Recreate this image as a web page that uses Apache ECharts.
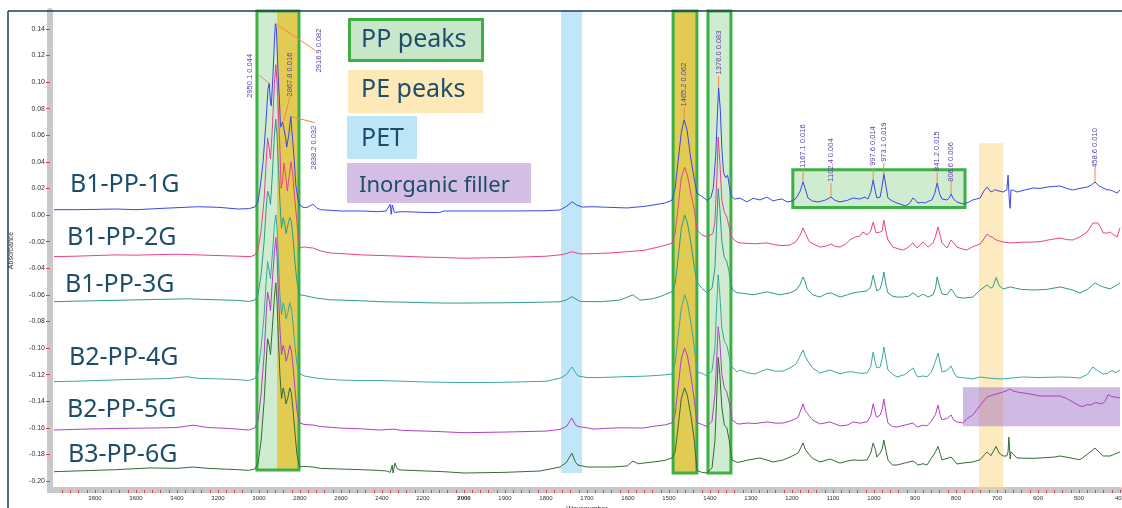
<!DOCTYPE html>
<html>
<head>
<meta charset="utf-8">
<script src="https://cdn.jsdelivr.net/npm/echarts@6/dist/echarts.min.js"></script>
<style>
html,body{margin:0;padding:0;background:#fff;overflow:hidden;}
#c{width:1122px;height:508px;}
</style>
</head>
<body>
<div id="c"></div>
<script>
// ---------- DATA (wavenumber, absorbance) ----------
const sampleNames = ['B1-PP-1G','B1-PP-2G','B1-PP-3G','B2-PP-4G','B2-PP-5G','B3-PP-6G'];
const legendNames = ['PP peaks','PE peaks','PET','Inorganic filler'];
const yTickValues = [-0.20,-0.18,-0.16,-0.14,-0.12,-0.10,-0.08,-0.06,-0.04,-0.02,0.00,0.02,0.04,0.06,0.08,0.10,0.12,0.14];

const trace1G = [[4000,.0040],[3900,.0040],[3800,.0042],[3700,.0045],[3600,.0040],[3500,.0048],[3400,.0055],[3300,.0062],[3200,.0058],[3100,.0045],[3050,.0048],[3020,.0060],[3005,.0098],[2995,.020],[2980,.040],[2966,.070],[2956,.095],[2950,.099],[2944,.085],[2940,.082],[2932,.105],[2925,.130],[2920,.144],[2915,.140],[2910,.118],[2906,.104],[2900,.085],[2895,.066],[2885,.070],[2878,.071],[2870,.058],[2865,.051],[2855,.060],[2845,.074],[2840,.073],[2830,.045],[2820,.022],[2810,.012],[2800,.007],[2780,.0055],[2760,.0060],[2737,.0082],[2720,.0055],[2700,.0040],[2600,.0030],[2500,.0030],[2420,.0025],[2380,.0030],[2360,.0080],[2355,.0005],[2350,.0075],[2340,.0020],[2300,.0025],[2200,.0020],[2120,.0018],[2100,.0030],[2000,.0030],[1900,.0030],[1800,.0032],[1766,.0038],[1750,.0065],[1736,.0100],[1725,.0075],[1712,.0060],[1685,.0062],[1650,.0058],[1602,.0053],[1560,.0065],[1539,.0075],[1510,.0090],[1493,.0110],[1485,.020],[1478,.040],[1470,.062],[1463,.0714],[1456,.064],[1448,.045],[1440,.030],[1432,.0165],[1420,.014],[1407,.011],[1398,.013],[1392,.020],[1386,.045],[1382,.075],[1379,.0955],[1375,.080],[1371,.050],[1367,.032],[1362,.028],[1357,.030],[1353,.022],[1348,.014],[1340,.012],[1327,.0128],[1310,.0098],[1295,.0125],[1278,.0113],[1261,.0135],[1246,.0105],[1235,.0115],[1224,.012],[1212,.0098],[1200,.0105],[1190,.0125],[1180,.018],[1173,.0248],[1168,.020],[1161,.0128],[1150,.0105],[1137,.0098],[1120,.011],[1105,.0135],[1095,.011],[1083,.0098],[1065,.0110],[1051,.0128],[1035,.012],[1022,.0135],[1015,.012],[1008,.017],[1002,.0263],[997,.018],[993,.0128],[985,.0135],[980,.022],[976,.0308],[971,.022],[966,.0128],[955,.0105],[944,.009],[934,.008],[924,.0068],[914,.0085],[905,.0128],[898,.011],[893,.009],[884,.0095],[876,.009],[866,.0105],[859,.0113],[852,.016],[846,.024],[840,.016],[834,.012],[822,.0113],[816,.013],[812,.0158],[806,.012],[798,.0098],[783,.0083],[770,.0095],[759,.0113],[741,.0128],[732,.018],[724,.021],[717,.018],[712,.0173],[706,.019],[702,.0203],[695,.018],[685,.0173],[676,.0188],[673,.030],[670,.0113],[668,.0050],[666,.0188],[660,.0185],[651,.0173],[630,.019],[612,.0203],[595,.020],[578,.021],[560,.0215],[546,.0218],[530,.020],[515,.0188],[498,.0200],[480,.021],[470,.0225],[461,.0248],[452,.022],[441,.0203],[432,.019],[424,.0188],[416,.0178],[407,.0165],[400,.0188]];

const trace2G = [[4000,-.0313],[3900,-.0310],[3800,-.0305],[3700,-.0300],[3600,-.0302],[3500,-.0298],[3400,-.0295],[3300,-.0300],[3200,-.0305],[3100,-.0310],[3040,-.0313],[3020,-.030],[3005,-.026],[2990,-.012],[2975,.012],[2965,.040],[2958,.058],[2950,.050],[2944,.042],[2935,.065],[2925,.098],[2918,.113],[2912,.100],[2905,.075],[2898,.050],[2892,.020],[2885,.025],[2878,.039],[2870,.030],[2862,.018],[2852,.030],[2844,.040],[2835,.030],[2826,.013],[2815,-.005],[2808,-.018],[2800,-.0248],[2780,-.0240],[2760,-.0245],[2737,-.0248],[2700,-.027],[2650,-.0286],[2600,-.0290],[2500,-.0300],[2400,-.0305],[2300,-.0310],[2200,-.0316],[2100,-.0320],[2000,-.0325],[1900,-.0320],[1800,-.0310],[1766,-.0300],[1750,-.0290],[1737,-.0276],[1717,-.0293],[1680,-.0290],[1640,-.0285],[1602,-.0276],[1560,-.0265],[1522,-.0238],[1493,-.0213],[1485,-.0135],[1478,.005],[1470,.028],[1462,.036],[1455,.030],[1446,.015],[1438,.0038],[1432,-.0113],[1420,-.015],[1407,-.0165],[1393,-.014],[1388,-.005],[1383,.030],[1380,.0586],[1376,.040],[1371,.011],[1365,.002],[1359,-.0015],[1354,-.008],[1349,-.016],[1340,-.0190],[1334,-.0203],[1327,-.0210],[1310,-.0213],[1290,-.0216],[1261,-.0210],[1240,-.0225],[1224,-.0230],[1205,-.0226],[1190,-.020],[1180,-.015],[1173,-.0098],[1167,-.014],[1158,-.020],[1151,-.0213],[1132,-.0241],[1118,-.0235],[1105,-.0218],[1095,-.0235],[1083,-.0241],[1070,-.022],[1059,-.0188],[1046,-.0165],[1035,-.016],[1027,-.0128],[1017,-.0150],[1008,-.012],[1002,-.0053],[995,-.0135],[985,-.0128],[980,-.012],[976,-.0038],[970,-.014],[966,-.0188],[954,-.0241],[940,-.0255],[929,-.0263],[920,-.025],[905,-.0210],[895,-.0248],[880,-.0203],[868,-.0241],[856,-.0210],[850,-.016],[844,-.009],[838,-.016],[834,-.0210],[822,-.0248],[812,-.0188],[805,-.021],[798,-.0241],[785,-.0255],[773,-.0263],[760,-.024],[741,-.0218],[732,-.018],[724,-.0143],[718,-.016],[712,-.0165],[702,-.0188],[685,-.0203],[668,-.0210],[640,-.0205],[612,-.0203],[595,-.0200],[570,-.0185],[546,-.0173],[530,-.0185],[515,-.0188],[498,-.0165],[480,-.0128],[466,-.0060],[454,-.0060],[446,-.010],[441,-.0135],[430,-.0135],[424,-.0128],[415,-.015],[407,-.0165],[400,-.0098]];

const trace3G = [[4000,-.0652],[3900,-.0648],[3800,-.0645],[3600,-.0638],[3400,-.0632],[3350,-.0630],[3200,-.0638],[3100,-.0642],[3050,-.0650],[3020,-.0640],[3005,-.060],[2990,-.045],[2975,-.020],[2965,.005],[2958,.018],[2950,.014],[2944,.008],[2935,.030],[2925,.060],[2918,.072],[2912,.060],[2905,.035],[2898,.010],[2890,-.010],[2882,-.002],[2875,-.006],[2868,-.014],[2860,-.008],[2850,-.002],[2842,-.005],[2835,-.015],[2825,-.035],[2815,-.050],[2805,-.058],[2800,-.0600],[2780,-.0605],[2750,-.0615],[2720,-.0625],[2650,-.0638],[2600,-.0640],[2500,-.0645],[2410,-.0652],[2300,-.0655],[2180,-.0660],[2100,-.0662],[2000,-.0662],[1900,-.0660],[1800,-.0655],[1766,-.0652],[1750,-.0638],[1737,-.0614],[1717,-.0650],[1668,-.0652],[1620,-.0640],[1588,-.0600],[1571,-.0640],[1540,-.0630],[1522,-.0614],[1493,-.0577],[1485,-.052],[1478,-.033],[1470,-.010],[1462,.000],[1455,-.006],[1446,-.022],[1438,-.040],[1432,-.0504],[1420,-.055],[1407,-.0586],[1395,-.055],[1388,-.040],[1384,-.010],[1380,.020],[1376,.005],[1371,-.020],[1365,-.032],[1359,-.035],[1354,-.042],[1349,-.052],[1344,-.0564],[1334,-.0586],[1327,-.0586],[1295,-.0600],[1261,-.0578],[1230,-.0600],[1205,-.0586],[1190,-.0564],[1180,-.052],[1173,-.0466],[1168,-.050],[1163,-.0556],[1150,-.060],[1132,-.0617],[1115,-.059],[1105,-.0586],[1095,-.0600],[1083,-.0617],[1065,-.0600],[1051,-.0586],[1035,-.0578],[1017,-.0571],[1008,-.054],[1002,-.0451],[997,-.052],[993,-.0571],[985,-.0556],[980,-.050],[976,-.0429],[971,-.052],[966,-.0586],[955,-.0610],[944,-.0617],[930,-.0617],[915,-.0610],[905,-.0586],[898,-.0600],[893,-.0617],[880,-.0595],[868,-.0617],[856,-.0600],[850,-.055],[846,-.0466],[840,-.054],[834,-.0594],[822,-.0600],[812,-.0556],[806,-.0580],[798,-.0617],[783,-.0625],[759,-.0617],[741,-.0564],[724,-.0526],[715,-.0550],[710,-.0541],[702,-.0470],[695,-.0530],[685,-.0556],[668,-.0541],[640,-.0560],[612,-.0564],[580,-.0560],[546,-.0541],[515,-.0564],[498,-.0586],[480,-.0560],[461,-.0511],[450,-.0530],[441,-.0541],[424,-.0556],[410,-.0530],[400,-.0511]];

const trace4G = [[4000,-.1253],[3900,-.1250],[3800,-.1245],[3700,-.1240],[3600,-.1235],[3450,-.1230],[3351,-.1216],[3300,-.1228],[3200,-.1232],[3100,-.1238],[3050,-.1245],[3020,-.1230],[3005,-.118],[2990,-.100],[2975,-.075],[2965,-.050],[2958,-.035],[2950,-.042],[2944,-.048],[2935,-.030],[2925,-.008],[2918,.000],[2912,-.010],[2905,-.035],[2898,-.060],[2890,-.075],[2882,-.066],[2875,-.070],[2868,-.078],[2860,-.074],[2850,-.066],[2842,-.070],[2835,-.080],[2825,-.098],[2815,-.112],[2805,-.119],[2800,-.1200],[2780,-.1210],[2737,-.1222],[2700,-.1230],[2605,-.1241],[2500,-.1245],[2400,-.1245],[2300,-.1250],[2180,-.1256],[2100,-.1258],[2000,-.1260],[1900,-.1258],[1800,-.1250],[1766,-.1228],[1750,-.1200],[1737,-.1143],[1728,-.1185],[1722,-.1210],[1700,-.1222],[1668,-.1222],[1600,-.1215],[1560,-.1212],[1522,-.1205],[1493,-.1196],[1485,-.112],[1478,-.092],[1470,-.070],[1462,-.060],[1455,-.066],[1446,-.082],[1438,-.100],[1432,-.1180],[1420,-.1190],[1407,-.1210],[1395,-.117],[1388,-.100],[1384,-.070],[1380,-.045],[1376,-.060],[1371,-.085],[1365,-.095],[1359,-.098],[1354,-.105],[1349,-.112],[1346,-.1143],[1334,-.1180],[1327,-.1165],[1307,-.1188],[1290,-.1195],[1261,-.1158],[1240,-.1175],[1222,-.1173],[1205,-.1150],[1190,-.1120],[1185,-.1090],[1173,-.1015],[1168,-.1060],[1163,-.1090],[1150,-.1150],[1132,-.1188],[1107,-.1165],[1083,-.1195],[1065,-.1180],[1051,-.1180],[1035,-.1190],[1017,-.1188],[1008,-.114],[1002,-.1030],[996,-.112],[993,-.1150],[985,-.1143],[980,-.108],[976,-.0992],[971,-.108],[966,-.1165],[955,-.1195],[944,-.1218],[925,-.1200],[905,-.1150],[898,-.1195],[893,-.1218],[880,-.1210],[871,-.1218],[860,-.1180],[850,-.110],[844,-.1038],[838,-.112],[834,-.1180],[822,-.1170],[812,-.1135],[806,-.1180],[798,-.1218],[780,-.1225],[759,-.1232],[741,-.1218],[724,-.1225],[700,-.1232],[685,-.1232],[637,-.1218],[600,-.1222],[546,-.1218],[520,-.1220],[498,-.1226],[480,-.1200],[466,-.1143],[455,-.1170],[441,-.1196],[430,-.1190],[420,-.1170],[410,-.1185],[400,-.1165]];

const trace5G = [[4000,-.1617],[3900,-.1612],[3800,-.1608],[3700,-.1605],[3532,-.1602],[3400,-.1598],[3322,-.1580],[3250,-.1598],[3150,-.1605],[3100,-.1610],[3050,-.1617],[3020,-.1600],[3005,-.155],[2990,-.135],[2975,-.105],[2965,-.075],[2958,-.058],[2950,-.064],[2944,-.072],[2935,-.050],[2925,-.028],[2918,-.017],[2912,-.030],[2905,-.060],[2898,-.085],[2890,-.105],[2882,-.098],[2875,-.102],[2868,-.110],[2860,-.106],[2850,-.098],[2842,-.102],[2835,-.112],[2825,-.130],[2815,-.147],[2805,-.154],[2800,-.1564],[2780,-.1575],[2737,-.1579],[2700,-.1590],[2605,-.1602],[2500,-.1608],[2410,-.1617],[2346,-.1610],[2300,-.1620],[2180,-.1625],[2100,-.1630],[2000,-.1637],[1900,-.1632],[1800,-.1625],[1766,-.1612],[1750,-.1590],[1737,-.1526],[1728,-.1580],[1722,-.1590],[1700,-.1600],[1685,-.1610],[1660,-.1605],[1620,-.1600],[1563,-.1602],[1540,-.1590],[1510,-.1578],[1493,-.1564],[1485,-.150],[1478,-.130],[1470,-.108],[1462,-.100],[1455,-.106],[1446,-.122],[1438,-.140],[1432,-.1560],[1420,-.1575],[1407,-.1590],[1395,-.155],[1388,-.135],[1384,-.110],[1380,-.084],[1376,-.095],[1371,-.120],[1365,-.130],[1359,-.133],[1354,-.140],[1349,-.148],[1346,-.1540],[1334,-.1570],[1327,-.1571],[1307,-.1564],[1290,-.1568],[1261,-.1556],[1240,-.1565],[1222,-.1564],[1205,-.1550],[1190,-.1530],[1185,-.1520],[1173,-.1420],[1168,-.1470],[1163,-.1490],[1150,-.1540],[1132,-.1571],[1107,-.1556],[1083,-.1586],[1065,-.1580],[1051,-.1556],[1035,-.1565],[1017,-.1556],[1008,-.1510],[1002,-.1420],[996,-.1500],[993,-.1520],[985,-.1505],[980,-.1460],[976,-.1383],[971,-.1480],[966,-.1565],[955,-.1590],[944,-.1594],[925,-.1580],[905,-.1564],[898,-.1585],[893,-.1594],[880,-.1580],[871,-.1586],[860,-.1550],[850,-.150],[844,-.1429],[838,-.1510],[834,-.1540],[822,-.1530],[812,-.1504],[806,-.1540],[798,-.1556],[783,-.1564],[773,-.1530],[759,-.1504],[741,-.1430],[724,-.1368],[710,-.1353],[700,-.1345],[685,-.1331],[676,-.1320],[668,-.1308],[660,-.1325],[651,-.1331],[620,-.1345],[595,-.1361],[560,-.1361],[546,-.1361],[530,-.1380],[515,-.1406],[498,-.1436],[490,-.1440],[480,-.1425],[473,-.1430],[460,-.1410],[456,-.1410],[444,-.1420],[436,-.1400],[429,-.1350],[420,-.1365],[410,-.1370],[400,-.1376]];

const trace6G = [[4000,-.1930],[3900,-.1925],[3800,-.1920],[3700,-.1915],[3532,-.1902],[3400,-.1905],[3322,-.1895],[3250,-.1905],[3150,-.1912],[3100,-.1915],[3050,-.1920],[3020,-.1910],[3005,-.187],[2990,-.170],[2975,-.140],[2965,-.110],[2958,-.093],[2950,-.098],[2944,-.105],[2935,-.085],[2925,-.062],[2918,-.051],[2912,-.065],[2905,-.095],[2898,-.120],[2890,-.138],[2882,-.130],[2875,-.135],[2868,-.142],[2860,-.138],[2850,-.130],[2842,-.134],[2835,-.145],[2825,-.163],[2815,-.180],[2805,-.187],[2800,-.1895],[2780,-.1890],[2737,-.1895],[2700,-.1905],[2605,-.1910],[2500,-.1915],[2420,-.1920],[2376,-.1925],[2360,-.1935],[2356,-.1950],[2350,-.1880],[2346,-.1940],[2337,-.1865],[2327,-.1905],[2312,-.1917],[2180,-.1925],[2100,-.1930],[2000,-.1940],[1900,-.1935],[1815,-.1925],[1790,-.1910],[1766,-.1895],[1750,-.1860],[1737,-.1790],[1728,-.1860],[1722,-.1880],[1700,-.1895],[1685,-.1895],[1640,-.1895],[1602,-.1887],[1588,-.1850],[1575,-.1870],[1539,-.1857],[1510,-.1845],[1493,-.1827],[1485,-.178],[1478,-.160],[1470,-.138],[1462,-.130],[1455,-.136],[1446,-.152],[1438,-.170],[1432,-.1920],[1420,-.1935],[1407,-.1940],[1395,-.190],[1388,-.170],[1384,-.140],[1380,-.107],[1376,-.120],[1371,-.145],[1365,-.158],[1359,-.160],[1354,-.168],[1349,-.178],[1346,-.1842],[1334,-.1860],[1327,-.1857],[1307,-.1842],[1278,-.1827],[1246,-.1857],[1222,-.1842],[1205,-.1820],[1185,-.1790],[1173,-.1714],[1168,-.1760],[1163,-.1782],[1150,-.1830],[1132,-.1857],[1107,-.1835],[1083,-.1865],[1065,-.1850],[1051,-.1842],[1035,-.1845],[1017,-.1842],[1008,-.1790],[1002,-.1714],[996,-.1770],[993,-.1820],[985,-.1790],[980,-.1760],[976,-.1692],[971,-.1770],[966,-.1842],[955,-.1880],[944,-.1880],[925,-.1865],[905,-.1850],[898,-.1865],[893,-.1880],[880,-.1870],[871,-.1880],[860,-.1830],[850,-.178],[844,-.1740],[838,-.180],[834,-.1842],[822,-.1830],[812,-.1820],[806,-.1840],[798,-.1872],[783,-.1865],[759,-.1857],[741,-.1840],[730,-.1800],[724,-.1782],[715,-.1810],[712,-.1812],[702,-.1740],[695,-.1790],[685,-.1812],[676,-.1812],[673,-.1780],[671,-.1670],[668,-.1835],[666,-.1780],[651,-.1827],[612,-.1830],[595,-.1827],[560,-.1820],[546,-.1812],[515,-.1830],[498,-.1840],[480,-.1800],[461,-.1752],[452,-.1780],[441,-.1812],[424,-.1812],[415,-.1800],[400,-.1782]];

// peak annotations on B1-PP-1G: [wavenumber, absorbance], label text
const peakPoints = [[2950,.099],[2920,.144],[2878,.071],[2845,.074],[1463,.0714],[1379,.0955],[1173,.0248],[1105,.0135],[1002,.0263],[976,.0308],[846,.024],[812,.0158],[461,.0248]];
const peakTexts = ['2950.1 0.044','2916.9 0.082','2867.8 0.016','2838.2 0.032','1465.2 0.062','1376.0 0.083','1167.1 0.016','1102.4 0.004','997.6 0.014','973.1 0.019','841.2 0.015','806.6 0.006','458.6 0.010'];

// highlighted wavenumber regions
const ppRegionCH = [3010, 2912];
const peRegionCH = [2912, 2805];
const petRegion = [1763, 1712];
const peRegion1465 = [1490, 1432];
const ppRegion1376 = [1405, 1349];
const ppRegionFinger = [1198, 778, 0.0341, 0.0056];
const peRegion720 = [744, 685, 0.054];
const fillerRegion = [783, 400, -0.1295, -0.1588];

// ---------- LAYOUT ----------
const seriesColors = ['#3a47e6','#ee3f8a','#2b9a8a','#3aa8a2','#b03fc6','#356b35'];
const sampleLabelPos = [[70,185],[67,238],[65,285],[69,358],[67,410],[68,455]];
// leader end (dx,dy) and text centre (dx,dy), px from peak
const peakLeader = [[-10,-8,-19.5,-7.5],[40,27,44,27],[6,-24,6,-46],[24,6,23,31],[0,-13,0,-35.5],[0,-12,0,-35.5],[0,-14,0,-36],[0,-14,0,-37],[0,-12,0,-34],[0,-11,0,-32],[0,-11,0,-32],[0,-12,0,-32],[0,-14,0,-34]];

const Y_MIN = -0.20677, Y_MAX = 0.15338;
// scale break: above 2000 cm-1 the axis is compressed 2x
function tx(wn){ return wn <= 2000 ? wn : 2000 + (wn - 2000) / 2; }
function untx(t){ return t <= 2000 ? t : 2000 + (t - 2000) * 2; }

const chart = echarts.init(document.getElementById('c'), null, {renderer:'canvas', width:1122, height:508});

const lineSeries = [trace1G,trace2G,trace3G,trace4G,trace5G,trace6G].map((d,i)=>({
  type:'line', name:sampleNames[i], data:d.map(p=>[tx(p[0]),p[1]]),
  showSymbol:false, symbol:'none', silent:true, z:2,
  lineStyle:{color:seriesColors[i], width:1}
}));

const GREEN_FILL='rgba(120,200,120,0.35)', YELLOW_FILL='rgba(218,190,40,0.8)';
function area(x0,x1,y0,y1,style){ return [{xAxis:tx(x0),yAxis:y0,itemStyle:style},{xAxis:tx(x1),yAxis:y1}]; }

const fillSeries = {
  type:'line', data:[], z:4, silent:true,
  markArea:{silent:true, data:[
    area(ppRegionCH[0],ppRegionCH[1],-0.1917,Y_MAX,{color:GREEN_FILL}),
    area(peRegionCH[0],peRegionCH[1],-0.1917,Y_MAX,{color:YELLOW_FILL}),
    area(petRegion[0],petRegion[1],-0.194,Y_MAX,{color:'rgba(140,210,240,0.55)'}),
    area(peRegion1465[0],peRegion1465[1],-0.194,Y_MAX,{color:YELLOW_FILL}),
    area(ppRegion1376[0],ppRegion1376[1],-0.194,Y_MAX,{color:GREEN_FILL}),
    area(ppRegionFinger[0],ppRegionFinger[1],ppRegionFinger[3],ppRegionFinger[2],{color:GREEN_FILL}),
    area(peRegion720[0],peRegion720[1],Y_MIN,peRegion720[2],{color:'rgba(250,215,130,0.5)'}),
    area(fillerRegion[0],fillerRegion[1],fillerRegion[3],fillerRegion[2],{color:'rgba(150,100,190,0.45)'})
  ]}
};
const BORDER={color:'rgba(0,0,0,0)',borderColor:'#3cb043',borderWidth:3};
const borderSeries = {
  type:'line', data:[], z:5, silent:true,
  markArea:{silent:true, data:[
    area(ppRegionCH[0],peRegionCH[1],-0.1917,Y_MAX,BORDER),
    area(peRegion1465[0],peRegion1465[1],-0.194,Y_MAX,BORDER),
    area(ppRegion1376[0],ppRegion1376[1],-0.194,Y_MAX,BORDER),
    area(ppRegionFinger[0],ppRegionFinger[1],ppRegionFinger[3],ppRegionFinger[2],BORDER)
  ]}
};

const peakSeries = {
  type:'custom', coordinateSystem:'cartesian2d', z:3, silent:true, clip:false,
  data: peakPoints.map(p=>[tx(p[0]),p[1]]),
  encode:{x:0,y:1},
  renderItem:function(params, api){
    const i = params.dataIndex;
    const p = api.coord([api.value(0), api.value(1)]);
    const L = peakLeader[i];
    return {type:'group', children:[
      {type:'line', shape:{x1:p[0],y1:p[1],x2:p[0]+L[0],y2:p[1]+L[1]}, style:{stroke:'#f0884e',lineWidth:1}},
      {type:'text', x:p[0]+L[2], y:p[1]+L[3], rotation:Math.PI/2,
       style:{text:peakTexts[i], x:0, y:0, align:'center', verticalAlign:'middle', fill:'#5b3fa3', font:'7.5px "Liberation Sans", Arial, sans-serif'}}
    ]};
  }
};

const TXT='#1d4d6b';
const legendBoxes = [
  {x:349.5,y:19.5,w:133,h:41,fill:'#c8e6c9',stroke:'#3cb043',lw:3,tx:361,ty:39.5,fs:25},
  {x:348,y:70,w:135,h:43,fill:'#fde9b7',stroke:null,lw:0,tx:361,ty:90,fs:25},
  {x:347,y:116,w:70,h:43,fill:'#bde5f8',stroke:null,lw:0,tx:361,ty:138.5,fs:25},
  {x:347,y:163,w:184,h:40,fill:'#d4bee4',stroke:null,lw:0,tx:359,ty:185.5,fs:22}
];
const graphics = [];
legendBoxes.forEach((b,i)=>{
  graphics.push({type:'rect', z:100, shape:{x:b.x,y:b.y,width:b.w,height:b.h},
    style:{fill:b.fill, stroke:b.stroke||null, lineWidth:b.lw}});
  graphics.push({type:'text', z:101, x:b.tx, y:b.ty,
    style:{text:legendNames[i], fill:TXT, font:b.fs+'px "Noto Sans", "Open Sans", sans-serif', align:'left', verticalAlign:'middle'}});
});
sampleNames.forEach((n,i)=>{
  graphics.push({type:'text', z:101, x:sampleLabelPos[i][0], y:sampleLabelPos[i][1],
    style:{text:n, fill:TXT, font:'25px "Noto Sans", "Open Sans", sans-serif', align:'left', verticalAlign:'middle'}});
});
graphics.push({type:'line', z:100, shape:{x1:8,y1:11,x2:1122,y2:11}, style:{stroke:'#1f3b57',lineWidth:1.5}});
graphics.push({type:'line', z:100, shape:{x1:8,y1:11,x2:8,y2:508}, style:{stroke:'#1f3b57',lineWidth:1.5}});
graphics.push({type:'rect', z:50, shape:{x:47,y:487,width:8,height:6}, style:{fill:'#c8c8c8'}});

const option = {
  animation:false,
  backgroundColor:'#ffffff',
  grid:{left:54,right:2,top:11,bottom:18,containLabel:false,outerBoundsMode:'none'},
  xAxis:{
    type:'value', inverse:true, min:400, max:3000, interval:100,
    axisLine:{show:true, onZero:false, lineStyle:{color:'#c8c8c8', width:6}},
    axisTick:{show:true, length:3, lineStyle:{color:'#e83a3a', width:1}},
    minorTick:{show:true, splitNumber:5, length:3, lineStyle:{color:'#e83a3a', width:1}},
    splitLine:{show:false}, minorSplitLine:{show:false},
    axisLabel:{fontSize:6, color:'#333', margin:5, fontFamily:'"Liberation Sans", Arial, sans-serif',
      showMinLabel:true, showMaxLabel:true, hideOverlap:false,
      formatter:function(v){ if (v >= 3000) return ''; const w = Math.round(untx(v)); return w===2000 ? '{b|2000}' : String(w); },
      rich:{b:{fontSize:6, fontWeight:'bold', color:'#222', fontFamily:'"Liberation Sans", Arial, sans-serif'}}},
    name:'Wavenumber', nameLocation:'middle', nameGap:16,
    nameTextStyle:{fontSize:7, color:'#333', fontFamily:'"Liberation Sans", Arial, sans-serif'}
  },
  yAxis:{
    type:'value', min:Y_MIN, max:Y_MAX, offset:4,
    axisLine:{show:true, onZero:false, lineStyle:{color:'#c8c8c8', width:6}},
    axisTick:{show:true, length:4, customValues:yTickValues, lineStyle:{color:'#e83a3a', width:1}},
    axisLabel:{customValues:yTickValues, fontSize:7, color:'#333', margin:5, fontFamily:'"Liberation Sans", Arial, sans-serif',
      formatter:function(v){ return (Math.abs(v)<1e-9?0:v).toFixed(2); }},
    splitLine:{show:false},
    name:'Absorbance', nameLocation:'middle', nameGap:35,
    nameTextStyle:{fontSize:7, color:'#333', fontFamily:'"Liberation Sans", Arial, sans-serif'}
  },
  series: lineSeries.concat([fillSeries, borderSeries, peakSeries]),
  graphic: graphics
};
chart.setOption(option);
</script>
</body>
</html>
